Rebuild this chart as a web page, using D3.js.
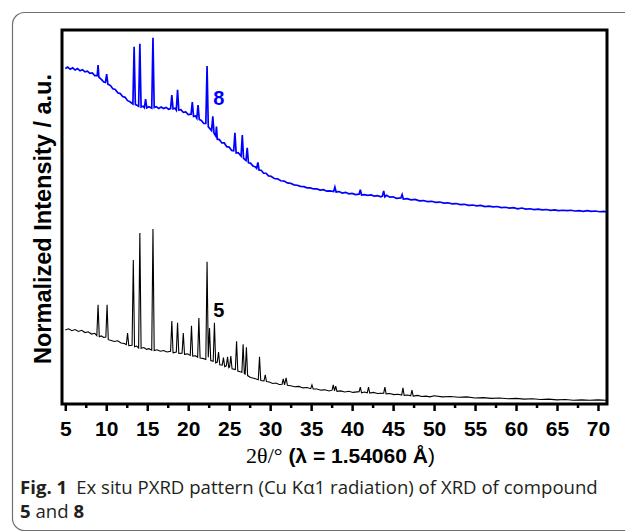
<!DOCTYPE html>
<html>
<head>
<meta charset="utf-8">
<script src="https://cdn.jsdelivr.net/npm/d3@7"></script>
<style>
  body { margin: 0; background: #fff; }
  svg { display: block; }
</style>
</head>
<body>
<div id="chart"></div>
<script>
// x tick values (2θ, degrees)
const majorTicks = [5, 10, 15, 20, 25, 30, 35, 40, 45, 50, 55, 60, 65, 70];
const minorTicks = [7.5, 12.5, 17.5, 22.5, 27.5, 32.5, 37.5, 42.5, 47.5, 52.5, 57.5, 62.5, 67.5];

// compound 8 (blue), [2θ, normalized intensity]
const pattern8 = [
  [5.0, 89.7], [5.3, 90.1], [5.6, 89.5], [5.9, 89.9], [6.2, 89.3], [6.5, 89.7], [6.8, 89.1],
  [7.1, 89.4], [7.4, 88.8], [7.7, 89.0], [8.0, 88.4], [8.3, 88.5], [8.6, 87.8], [8.9, 87.8],
  [9.0, 90.6], [9.1, 87.4], [9.4, 86.8], [9.7, 86.1], [9.9, 86.0], [10.05, 88.2], [10.2, 85.5],
  [10.5, 85.2], [10.8, 84.3], [11.1, 84.1], [11.4, 83.2], [11.7, 83.0], [12.0, 82.2], [12.3, 82.0],
  [12.6, 81.1], [12.9, 80.8], [13.25, 80.2], [13.4, 95.5], [13.55, 80.1], [13.8, 79.8], [13.95, 79.6],
  [14.1, 96.3], [14.25, 79.4], [14.5, 79.6], [14.65, 79.2], [14.8, 81.5], [14.95, 79.2], [15.2, 79.5],
  [15.55, 79.1], [15.7, 97.9], [15.85, 79.3], [16.1, 79.5], [16.4, 79.0], [16.7, 79.4], [17.0, 79.0],
  [17.3, 79.3], [17.6, 78.8], [17.85, 79.0], [18.0, 82.6], [18.15, 78.9], [18.4, 79.1], [18.55, 78.6],
  [18.7, 84.0], [18.85, 78.6], [19.1, 78.7], [19.4, 78.0], [19.7, 78.1], [20.0, 77.4], [20.35, 77.5],
  [20.5, 80.7], [20.65, 76.9], [20.9, 77.0], [21.05, 76.4], [21.2, 79.9], [21.35, 76.1], [21.6, 75.8],
  [21.9, 75.0], [22.15, 75.0], [22.3, 90.4], [22.45, 74.1], [22.7, 73.5], [22.85, 73.1], [23.0, 76.9],
  [23.15, 72.4], [23.35, 71.7], [23.45, 74.2], [23.55, 70.8], [23.8, 70.7], [24.1, 69.8], [24.4, 69.8],
  [24.7, 68.8], [25.0, 68.7], [25.3, 67.8], [25.55, 67.7], [25.7, 72.5], [25.85, 67.1], [26.1, 67.2],
  [26.45, 66.3], [26.6, 71.9], [26.75, 65.7], [27.05, 65.1], [27.2, 68.5], [27.35, 64.5], [27.6, 64.4],
  [27.9, 63.6], [28.2, 63.4], [28.35, 63.0], [28.5, 64.6], [28.65, 62.5], [28.9, 62.5], [29.2, 61.7],
  [29.5, 61.7], [29.8, 61.0], [30.1, 60.9], [30.5, 60.3], [30.9, 60.2], [31.3, 59.7], [31.7, 59.6],
  [32.1, 59.1], [32.5, 59.0], [32.9, 58.6], [33.3, 58.5], [33.7, 58.2], [34.1, 58.1], [34.5, 57.8],
  [34.9, 57.8], [35.3, 57.5], [35.7, 57.5], [36.1, 57.2], [36.5, 57.3], [36.9, 56.9], [37.3, 57.0],
  [37.75, 56.8], [37.9, 58.0], [38.05, 56.7], [38.4, 56.8], [38.8, 56.4], [39.2, 56.6], [39.6, 56.2],
  [40.0, 56.3], [40.4, 56.0], [40.85, 56.1], [41.0, 57.3], [41.15, 55.9], [41.5, 56.0], [41.9, 55.8],
  [42.3, 55.9], [42.7, 55.6], [43.1, 55.7], [43.5, 55.4], [43.7, 55.6], [43.85, 57.0], [44.0, 55.4],
  [44.2, 55.8], [44.6, 55.3], [45.0, 55.4], [45.4, 55.0], [45.95, 55.1], [46.1, 56.0], [46.25, 54.8],
  [46.7, 54.9], [47.2, 54.6], [47.7, 54.7], [48.2, 54.3], [48.7, 54.4], [49.2, 54.1], [49.7, 54.2],
  [50.2, 53.9], [50.7, 54.0], [51.2, 53.7], [51.7, 53.8], [52.2, 53.5], [52.7, 53.6], [53.2, 53.3],
  [53.7, 53.4], [54.2, 53.1], [54.7, 53.2], [55.2, 53.0], [55.7, 53.1], [56.2, 52.8], [56.7, 52.9],
  [57.2, 52.7], [57.7, 52.8], [58.2, 52.5], [58.7, 52.6], [59.2, 52.4], [59.7, 52.5], [60.2, 52.2],
  [60.7, 52.4], [61.2, 52.1], [61.7, 52.2], [62.2, 52.0], [62.7, 52.1], [63.2, 51.9], [63.7, 52.0],
  [64.2, 51.8], [64.7, 51.9], [65.2, 51.7], [65.7, 51.8], [66.2, 51.7], [66.7, 51.8], [67.2, 51.6],
  [67.7, 51.7], [68.2, 51.5], [68.7, 51.7], [69.2, 51.5], [69.7, 51.6], [70.2, 51.4], [70.7, 51.5],
  [71.0, 51.4]
];

// compound 5 (black), [2θ, normalized intensity]
const pattern5 = [
  [5.0, 19.8], [5.4, 20.1], [5.8, 19.6], [6.2, 19.9], [6.6, 19.4], [7.0, 19.7], [7.4, 19.1],
  [7.8, 19.3], [8.2, 18.7], [8.6, 18.9], [8.85, 18.3], [9.0, 26.5], [9.15, 18.0], [9.4, 18.2],
  [9.7, 17.8], [9.95, 17.9], [10.1, 26.5], [10.25, 17.2], [10.6, 17.0], [11.0, 16.7], [11.4, 16.9],
  [11.8, 16.3], [12.2, 16.2], [12.45, 15.9], [12.6, 19.0], [12.75, 15.6], [13.15, 15.7], [13.3, 38.5],
  [13.45, 15.3], [13.7, 15.5], [13.95, 15.0], [14.1, 45.7], [14.25, 14.9], [14.6, 15.1], [14.9, 14.6],
  [15.2, 14.8], [15.55, 14.4], [15.7, 46.8], [15.85, 14.3], [16.2, 14.5], [16.6, 14.1], [17.0, 14.3],
  [17.4, 13.9], [17.85, 14.1], [18.0, 22.2], [18.15, 13.7], [18.55, 13.9], [18.7, 21.7], [18.85, 13.5],
  [19.25, 13.6], [19.4, 19.0], [19.55, 13.3], [19.9, 13.4], [20.25, 13.0], [20.4, 20.9], [20.55, 12.8],
  [20.9, 12.9], [21.15, 12.5], [21.3, 23.0], [21.45, 12.3], [21.8, 12.2], [22.15, 11.9], [22.3, 38.0],
  [22.45, 12.5], [22.6, 20.3], [22.75, 11.6], [23.05, 11.4], [23.2, 21.7], [23.35, 11.0], [23.55, 11.2],
  [23.7, 13.9], [23.85, 10.5], [24.15, 10.4], [24.3, 12.4], [24.45, 10.0], [24.65, 10.2], [24.8, 12.6],
  [24.95, 9.7], [25.05, 9.9], [25.2, 12.8], [25.35, 9.4], [25.75, 9.2], [25.9, 16.8], [26.05, 8.8],
  [26.35, 8.6], [26.55, 8.5], [26.7, 16.0], [26.85, 8.1], [26.95, 8.0], [27.1, 15.2], [27.25, 7.6],
  [27.6, 7.1], [28.0, 6.9], [28.55, 6.5], [28.7, 12.6], [28.85, 6.3], [29.25, 6.2], [29.4, 7.8],
  [29.55, 6.0], [29.9, 5.9], [30.3, 5.5], [30.7, 5.6], [31.1, 5.2], [31.45, 5.3], [31.6, 6.7],
  [31.75, 5.1], [31.95, 7.0], [32.1, 5.0], [32.5, 4.9], [33.0, 4.6], [33.5, 4.7], [34.0, 4.3],
  [34.5, 4.4], [34.95, 4.1], [35.1, 5.1], [35.25, 4.0], [35.7, 4.0], [36.2, 3.7], [36.7, 3.8],
  [37.2, 3.5], [37.55, 3.7], [37.7, 5.1], [37.85, 3.5], [38.0, 4.8], [38.15, 3.4], [38.6, 3.5],
  [39.1, 3.2], [39.6, 3.4], [40.1, 3.1], [40.85, 3.3], [41.0, 4.5], [41.15, 3.0], [41.5, 3.2],
  [41.85, 3.0], [42.0, 4.5], [42.15, 2.9], [42.6, 3.1], [43.1, 2.8], [43.85, 2.9], [44.0, 4.5],
  [44.15, 2.7], [44.6, 2.8], [45.1, 2.5], [45.6, 2.6], [46.05, 2.4], [46.2, 4.3], [46.35, 2.3],
  [46.8, 2.4], [47.15, 2.2], [47.3, 3.7], [47.45, 2.1], [48.0, 2.3], [48.5, 2.0], [49.0, 2.1],
  [49.5, 1.9], [50.0, 2.2], [51.0, 1.9], [52.0, 2.0], [53.0, 1.8], [54.0, 1.9], [55.0, 1.6],
  [56.0, 1.7], [57.0, 1.5], [58.0, 1.6], [59.0, 1.4], [60.0, 1.5], [61.0, 1.3], [62.0, 1.4],
  [63.0, 1.2], [64.0, 1.3], [65.0, 1.1], [66.0, 1.2], [67.0, 1.0], [68.0, 1.1], [69.0, 1.0],
  [70.0, 1.1], [71.0, 1.0]
];

// series labels: [2θ, intensity, text, colour]
const seriesLabels = [
  [23.05, 79.9, '8', '#0000ff'],
  [23.05, 23.3, '5', '#000000']
];

const width = 625;
const height = 532;
const margin = { top: 30, right: 18, bottom: 128, left: 62 };
const innerW = width - margin.left - margin.right;
const innerH = height - margin.top - margin.bottom;

const svg = d3
  .select('#chart')
  .append('svg')
  .attr('width', width)
  .attr('height', height);

// rounded outer figure border
svg
  .append('rect')
  .attr('x', 12.5)
  .attr('y', 12.5)
  .attr('width', 680)
  .attr('height', 518)
  .attr('rx', 12)
  .attr('fill', 'none')
  .attr('stroke', '#707070')
  .attr('stroke-width', 1.2);

const chart = svg
  .append('g')
  .attr('transform', `translate(${margin.left},${margin.top})`);

const x = d3.scaleLinear().domain([4.6, 71.1]).range([0, innerW]);
const y = d3.scaleLinear().domain([0, 100]).range([innerH, 0]);

const line = d3
  .line()
  .x((d) => x(d[0]))
  .y((d) => y(d[1]));

chart
  .append('path')
  .datum(pattern5)
  .attr('fill', 'none')
  .attr('stroke', '#000')
  .attr('stroke-width', 1.1)
  .attr('d', line);

chart
  .append('path')
  .datum(pattern8)
  .attr('fill', 'none')
  .attr('stroke', '#0000ff')
  .attr('stroke-width', 1.7)
  .attr('d', line);

chart
  .selectAll('.series-label')
  .data(seriesLabels)
  .enter()
  .append('text')
  .attr('class', 'series-label')
  .attr('x', (d) => x(d[0]))
  .attr('y', (d) => y(d[1]))
  .attr('fill', (d) => d[3])
  .style('font-family', '"Liberation Sans", Arial, sans-serif')
  .style('font-weight', 'bold')
  .style('font-size', '20px')
  .text((d) => d[2]);

// minor ticks
const minorAxis = chart
  .append('g')
  .attr('transform', `translate(0,${innerH})`)
  .call(d3.axisBottom(x).tickValues(minorTicks).tickSize(4).tickFormat(''));
minorAxis.select('.domain').remove();
minorAxis.selectAll('line').attr('stroke-width', 2.5);

// major ticks + labels
const xAxis = chart
  .append('g')
  .attr('transform', `translate(0,${innerH})`)
  .call(
    d3.axisBottom(x).tickValues(majorTicks).tickSize(7).tickPadding(10).tickFormat(d3.format('d'))
  );
xAxis.select('.domain').remove();
xAxis.selectAll('line').attr('stroke-width', 2.5);
xAxis
  .selectAll('text')
  .attr('fill', '#000')
  .style('font-family', '"Liberation Sans", Arial, sans-serif')
  .style('font-weight', 'bold')
  .style('font-size', '21px');

// plot frame
chart
  .append('rect')
  .attr('width', innerW)
  .attr('height', innerH)
  .attr('fill', 'none')
  .attr('stroke', '#000')
  .attr('stroke-width', 3);

// axis titles
const xTitle = svg
  .append('text')
  .attr('x', margin.left + innerW / 2 + 6)
  .attr('y', 463)
  .attr('text-anchor', 'middle')
  .style('font-size', '21px')
  .attr('fill', '#000');
xTitle.append('tspan').style('font-family', '"Liberation Serif", "Times New Roman", serif').style('font-size', '22px').text('2θ/°');
xTitle
  .append('tspan')
  .style('font-family', '"Liberation Sans", Arial, sans-serif')
  .style('font-weight', 'bold')
  .text(' (λ = 1.54060 Å');
xTitle.append('tspan').style('font-family', '"Liberation Sans", Arial, sans-serif').text(')');

svg
  .append('text')
  .attr('transform', `translate(51,${margin.top + innerH / 2 + 2}) rotate(-90)`)
  .attr('text-anchor', 'middle')
  .style('font-family', '"Liberation Sans", Arial, sans-serif')
  .style('font-weight', 'bold')
  .style('font-size', '23.5px')
  .attr('fill', '#000')
  .text('Normalized Intensity / a.u.');

// caption
const caption = svg
  .append('g')
  .style('font-family', '"Open Sans", "Noto Sans", sans-serif')
  .style('font-size', '18.6px')
  .attr('fill', '#231f20');
const cap1 = caption.append('text').attr('x', 20).attr('y', 494);
cap1.append('tspan').style('font-weight', 'bold').text('Fig. 1');
cap1.append('tspan').attr('dx', 9).text('Ex situ PXRD pattern (Cu Kα1 radiation) of XRD of compound');
const cap2 = caption.append('text').attr('x', 20).attr('y', 518);
cap2.append('tspan').style('font-weight', 'bold').text('5');
cap2.append('tspan').text(' and ');
cap2.append('tspan').style('font-weight', 'bold').text('8');
</script>
</body>
</html>
